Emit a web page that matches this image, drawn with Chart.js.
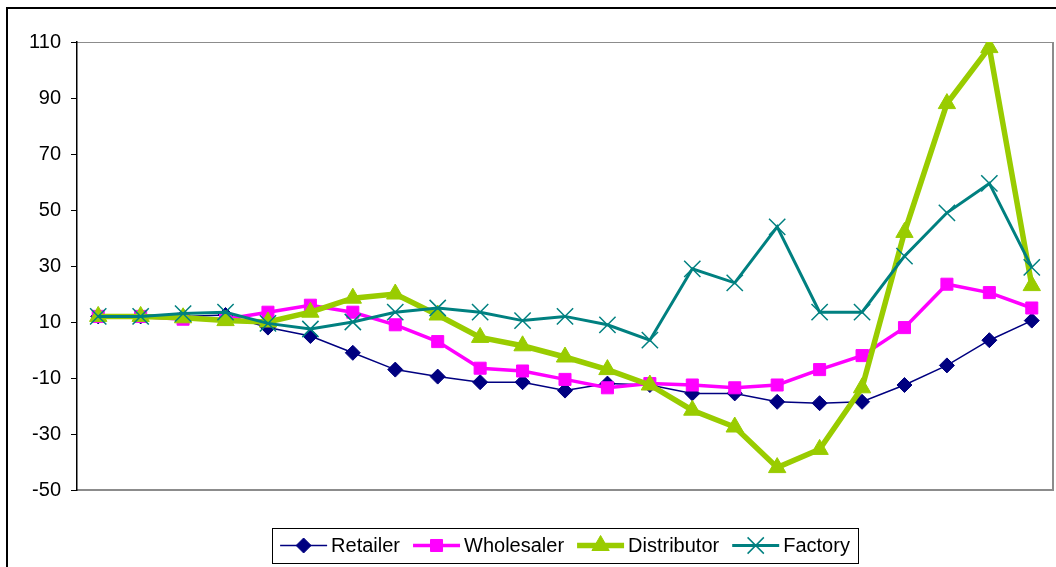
<!DOCTYPE html>
<html>
<head>
<meta charset="utf-8">
<script src="https://cdn.jsdelivr.net/npm/chart.js@4.4.0/dist/chart.umd.min.js"></script>
<style>
  html, body { margin: 0; padding: 0; background: #fff; }
  #wrap { width: 1056px; height: 567px; }
</style>
</head>
<body>
<div id="wrap"><canvas id="chart" width="1056" height="567"></canvas></div>
<script>
// weekly periods (no labels shown on the x axis)
const periods = [1, 2, 3, 4, 5, 6, 7, 8, 9, 10, 11, 12, 13, 14, 15, 16, 17, 18, 19, 20, 21, 22, 23];

const retailer    = [12, 12, 12, 12.5, 8, 5, -1, -7, -9.5, -11.5, -11.5, -14.5, -12, -12.5, -15.5, -15.5, -18.5, -19, -18.5, -12.5, -5.5, 3.5, 10.5];
const wholesaler  = [12, 12, 11, 11, 13.5, 16, 13.5, 9, 3, -6.5, -7.5, -10.5, -13.5, -12, -12.5, -13.5, -12.5, -7, -2, 8, 23.5, 20.5, 15];
const distributor = [12, 12, 11.5, 10.5, 10, 13.5, 18.5, 20, 12.5, 4.5, 1.5, -2.5, -7, -12.5, -21.5, -27.5, -42, -35.5, -13.5, 42, 88, 108, 23];
const factory     = [12, 12, 13, 13.5, 9.5, 7.5, 10, 13.5, 15, 13.5, 10.5, 12, 9, 3.5, 29, 24, 44, 13.5, 13.5, 33.5, 49, 59.5, 29.5];

const yTicks = [-50, -30, -10, 10, 30, 50, 70, 90, 110];

const FONT = '"Liberation Sans", Arial, sans-serif';

// outer frame + grey plot border
const framePlugin = {
  id: 'frame',
  beforeDraw(chart) {
    const ctx = chart.ctx;
    ctx.save();
    ctx.fillStyle = '#fff';
    ctx.fillRect(0, 0, chart.width, chart.height);
    ctx.strokeStyle = '#000';
    ctx.lineWidth = 2;
    ctx.strokeRect(7, 8, chart.width + 20, chart.height + 20);
    const a = chart.chartArea;
    ctx.strokeStyle = '#8c8c8c';
    ctx.lineWidth = 1;
    ctx.beginPath();
    ctx.moveTo(a.left, Math.round(a.top) + 0.5);
    ctx.lineTo(a.right, Math.round(a.top) + 0.5);
    ctx.stroke();
    ctx.lineWidth = 2;
    ctx.beginPath();
    ctx.moveTo(a.right, a.top);
    ctx.lineTo(a.right, a.bottom);
    ctx.lineTo(a.left, a.bottom);
    ctx.stroke();
    ctx.restore();
  }
};

// boxed legend with line + marker samples
const legendPlugin = {
  id: 'boxLegend',
  afterDraw(chart) {
    const ctx = chart.ctx;
    const sets = chart.data.datasets;
    ctx.save();
    ctx.font = '20px ' + FONT;
    const sample = 47, gap = 4, after = 13, pad = 8;
    const widths = sets.map(d => ctx.measureText(d.label).width);
    const total = widths.reduce((s, w) => s + sample + gap + w + after, 0) - after;
    const a = chart.chartArea;
    let x = (a.left + a.right) / 2 - total / 2;
    const boxTop = 528, boxH = 35, midY = boxTop + boxH / 2;
    ctx.strokeStyle = '#000';
    ctx.lineWidth = 1;
    ctx.strokeRect(Math.round(x - pad) + 0.5, boxTop + 0.5, Math.round(total + 2 * pad), boxH);
    sets.forEach((d, i) => {
      ctx.strokeStyle = d.borderColor;
      ctx.lineWidth = d.borderWidth;
      ctx.beginPath();
      ctx.moveTo(x, midY);
      ctx.lineTo(x + sample, midY);
      ctx.stroke();
      ctx.fillStyle = d.pointBackgroundColor;
      ctx.strokeStyle = d.pointBorderColor;
      ctx.lineWidth = d.pointBorderWidth;
      Chart.helpers.drawPoint(ctx, {
        pointStyle: d.pointStyle, radius: d.pointRadius,
        borderWidth: d.pointBorderWidth, rotation: 0
      }, x + sample / 2, midY);
      ctx.fillStyle = '#000';
      ctx.textBaseline = 'middle';
      ctx.textAlign = 'left';
      ctx.fillText(d.label, x + sample + gap, midY + 1);
      x += sample + gap + widths[i] + after;
    });
    ctx.restore();
  }
};

new Chart(document.getElementById('chart'), {
  type: 'line',
  data: {
    labels: periods,
    datasets: [
      {
        label: 'Retailer', data: retailer, order: 4,
        borderColor: '#000080', borderWidth: 1.5,
        pointStyle: 'rectRot', pointRadius: 7.5,
        pointBackgroundColor: '#000080', pointBorderColor: '#000080', pointBorderWidth: 1
      },
      {
        label: 'Wholesaler', data: wholesaler, order: 3,
        borderColor: '#ff00ff', borderWidth: 3.5,
        pointStyle: 'rect', pointRadius: 8.5,
        pointBackgroundColor: '#ff00ff', pointBorderColor: '#ff00ff', pointBorderWidth: 1
      },
      {
        label: 'Distributor', data: distributor, order: 2,
        borderColor: '#99cc00', borderWidth: 5.5,
        pointStyle: 'triangle', pointRadius: 10,
        pointBackgroundColor: '#99cc00', pointBorderColor: '#99cc00', pointBorderWidth: 1
      },
      {
        label: 'Factory', data: factory, order: 1,
        borderColor: '#008080', borderWidth: 3,
        pointStyle: 'crossRot', pointRadius: 11.5,
        pointBackgroundColor: '#008080', pointBorderColor: '#008080', pointBorderWidth: 1.5
      }
    ]
  },
  options: {
    responsive: false,
    animation: false,
    events: [],
    layout: { autoPadding: false, padding: { top: 42, right: 3, bottom: 77, left: 0 } },
    elements: { line: { tension: 0 } },
    plugins: {
      legend: { display: false },
      tooltip: { enabled: false }
    },
    scales: {
      x: {
        type: 'category',
        offset: true,
        grid: { display: false },
        border: { display: false },
        ticks: { display: false },
        afterFit(scale) { scale.height = 0; }
      },
      y: {
        type: 'linear',
        min: -50,
        max: 110,
        afterBuildTicks(scale) { scale.ticks = yTicks.map(v => ({ value: v })); },
        grid: { drawOnChartArea: false, drawTicks: true, tickLength: 6, color: '#000', lineWidth: 1 },
        border: { color: '#000', width: 1.5 },
        ticks: { color: '#000', padding: 10, font: { size: 20, family: FONT } },
        afterFit(scale) { scale.width = 77; }
      }
    }
  },
  plugins: [framePlugin, legendPlugin]
});
</script>
</body>
</html>
